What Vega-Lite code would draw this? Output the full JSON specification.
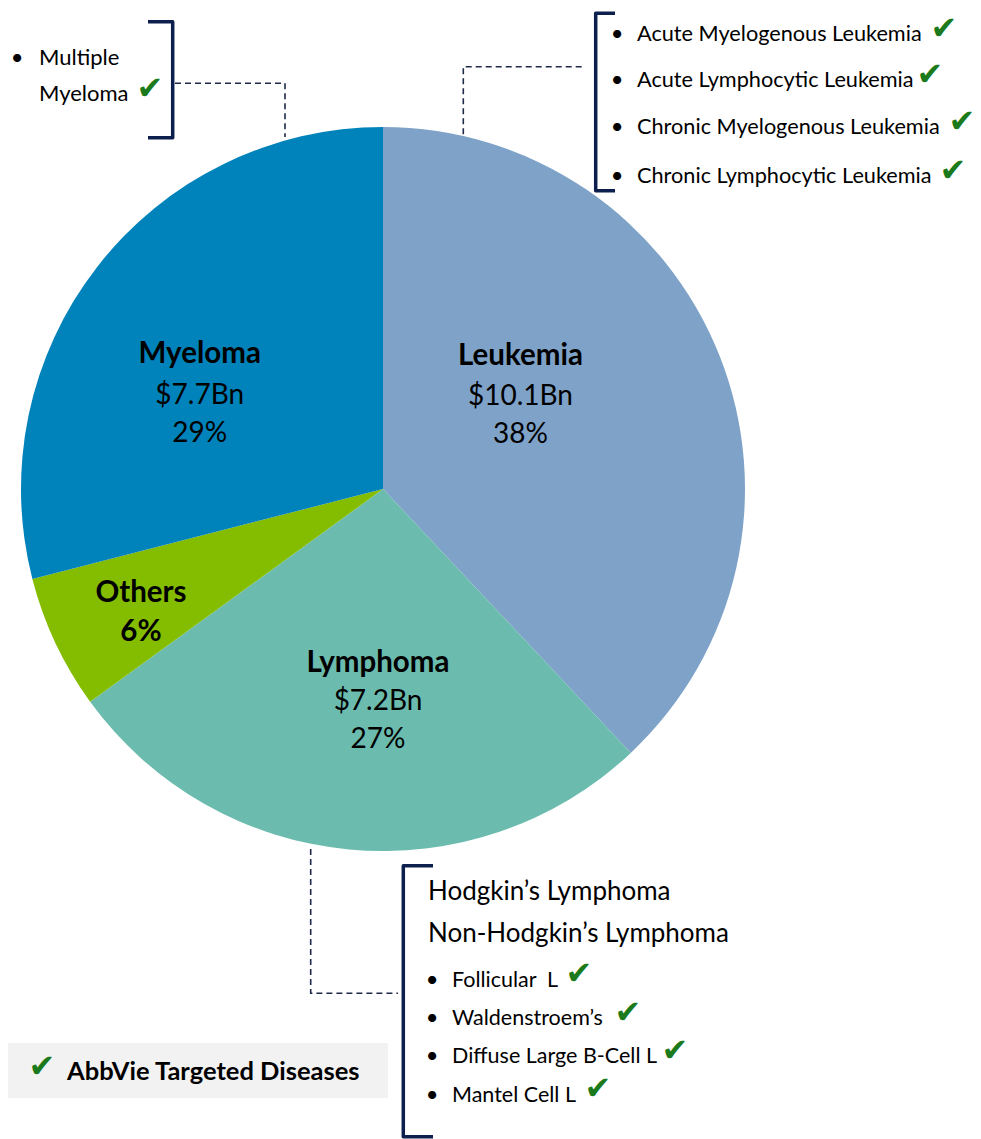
{
  "$schema": "https://vega.github.io/schema/vega-lite/v6.json",
  "width": 766,
  "height": 978,
  "autosize": {"type": "none"},
  "padding": {"left": 0, "top": 0, "right": 215, "bottom": 161},
  "background": "white",
  "config": {"view": {"stroke": null}, "font": "Lato", "text": {"font": "Lato"}},
  "datasets": {
    "pie": [
      {"segment": "Leukemia", "value": 38, "order": 1},
      {"segment": "Lymphoma", "value": 27, "order": 2},
      {"segment": "Others", "value": 6, "order": 3},
      {"segment": "Myeloma", "value": 29, "order": 4}
    ],
    "legendBox": [{"x": 8, "x2": 388, "y": 1043, "y2": 1098}],
    "labelsBold": [
      {"x": 199.7, "y": 363, "text": "Myeloma"},
      {"x": 520.5, "y": 365, "text": "Leukemia"},
      {"x": 141, "y": 602, "text": "Others"},
      {"x": 141, "y": 641, "text": "6%"},
      {"x": 378, "y": 672, "text": "Lymphoma"}
    ],
    "labelsReg": [
      {"x": 199.7, "y": 404, "text": "$7.7Bn"},
      {"x": 199.7, "y": 442, "text": "29%"},
      {"x": 520.5, "y": 405, "text": "$10.1Bn"},
      {"x": 520.5, "y": 443, "text": "38%"},
      {"x": 378, "y": 710, "text": "$7.2Bn"},
      {"x": 378, "y": 748, "text": "27%"}
    ],
    "items": [
      {"x": 39, "y": 65, "text": "Multiple"},
      {"x": 39, "y": 101, "text": "Myeloma"}
    ],
    "leukItems": [
      {"x": 637, "y": 40.7, "text": "Acute Myelogenous Leukemia"},
      {"x": 637, "y": 87.3, "text": "Acute Lymphocytic Leukemia"},
      {"x": 637, "y": 134, "text": "Chronic Myelogenous Leukemia"},
      {"x": 637, "y": 183.3, "text": "Chronic Lymphocytic Leukemia"}
    ],
    "lymphItems": [
      {"x": 452, "y": 986.7, "text": "Follicular\u00a0 L"},
      {"x": 452, "y": 1025, "text": "Waldenstroem’s"},
      {"x": 452, "y": 1063.3, "text": "Diffuse Large B-Cell L"},
      {"x": 452, "y": 1101.7, "text": "Mantel Cell L"}
    ],
    "headings": [
      {"x": 428, "y": 900, "text": "Hodgkin’s Lymphoma"},
      {"x": 428, "y": 941.7, "text": "Non-Hodgkin’s Lymphoma"}
    ],
    "bullets": [
      {"x": 17, "y": 65},
      {"x": 617, "y": 40.7},
      {"x": 617, "y": 87.3},
      {"x": 617, "y": 134},
      {"x": 617, "y": 183.3},
      {"x": 432, "y": 986.7},
      {"x": 432, "y": 1025},
      {"x": 432, "y": 1063.3},
      {"x": 432, "y": 1101.7}
    ],
    "checks": [
      {"x": 150, "y": 89},
      {"x": 944, "y": 29},
      {"x": 930, "y": 75},
      {"x": 962, "y": 122},
      {"x": 953, "y": 171},
      {"x": 579, "y": 974},
      {"x": 628, "y": 1013},
      {"x": 675, "y": 1051},
      {"x": 598, "y": 1089},
      {"x": 42, "y": 1067}
    ],
    "legendText": [{"x": 67, "y": 1080, "text": "AbbVie Targeted Diseases"}],
    "brackets": [
      {"id": "b1", "o": 1, "x": 148, "y": 21.7},
      {"id": "b1", "o": 2, "x": 172.7, "y": 21.7},
      {"id": "b1", "o": 3, "x": 172.7, "y": 137.7},
      {"id": "b1", "o": 4, "x": 148, "y": 137.7},
      {"id": "b2", "o": 1, "x": 615, "y": 13.3},
      {"id": "b2", "o": 2, "x": 595.7, "y": 13.3},
      {"id": "b2", "o": 3, "x": 595.7, "y": 190.7},
      {"id": "b2", "o": 4, "x": 615, "y": 190.7},
      {"id": "b3", "o": 1, "x": 433, "y": 865.7},
      {"id": "b3", "o": 2, "x": 403.3, "y": 865.7},
      {"id": "b3", "o": 3, "x": 403.3, "y": 1136.7},
      {"id": "b3", "o": 4, "x": 433, "y": 1136.7}
    ],
    "connectors": [
      {"id": "d1", "o": 1, "x": 175, "y": 83.3},
      {"id": "d1", "o": 2, "x": 285, "y": 83.3},
      {"id": "d1", "o": 3, "x": 285, "y": 137},
      {"id": "d2", "o": 1, "x": 581.7, "y": 66.7},
      {"id": "d2", "o": 2, "x": 463.3, "y": 66.7},
      {"id": "d2", "o": 3, "x": 463.3, "y": 136},
      {"id": "d3", "o": 1, "x": 310.7, "y": 849},
      {"id": "d3", "o": 2, "x": 310.7, "y": 993.3},
      {"id": "d3", "o": 3, "x": 398, "y": 993.3}
    ]
  },
  "encoding": {
    "x": {"field": "x", "type": "quantitative", "scale": {"domain": [0, 766], "nice": false, "zero": false}, "axis": null},
    "y": {"field": "y", "type": "quantitative", "scale": {"domain": [0, 978], "reverse": true, "nice": false, "zero": false}, "axis": null}
  },
  "layer": [
    {
      "data": {"name": "legendBox"},
      "mark": {"type": "rect", "fill": "#F2F2F2"},
      "encoding": {"x2": {"field": "x2"}, "y2": {"field": "y2"}}
    },
    {
      "data": {"name": "pie"},
      "mark": {"type": "arc", "radius": 362},
      "encoding": {
        "x": null,
        "y": null,
        "theta": {"field": "value", "type": "quantitative", "stack": true},
        "order": {"field": "order", "type": "quantitative"},
        "color": {
          "field": "segment",
          "type": "nominal",
          "scale": {"domain": ["Leukemia", "Lymphoma", "Others", "Myeloma"], "range": ["#7FA3C8", "#6BBCAE", "#84BD00", "#0082BA"]},
          "legend": null
        }
      }
    },
    {
      "data": {"name": "connectors"},
      "mark": {"type": "line", "stroke": "#1F2A4A", "strokeWidth": 1.6, "strokeDash": [6, 4]},
      "encoding": {"detail": {"field": "id"}, "order": {"field": "o", "type": "quantitative"}}
    },
    {
      "data": {"name": "brackets"},
      "mark": {"type": "line", "stroke": "#0D1F4D", "strokeWidth": 3.5, "strokeJoin": "round", "strokeCap": "butt"},
      "encoding": {"detail": {"field": "id"}, "order": {"field": "o", "type": "quantitative"}}
    },
    {
      "data": {"name": "labelsBold"},
      "mark": {"type": "text", "fontWeight": "bold", "fontSize": 29.5, "align": "center", "baseline": "alphabetic", "color": "#000000"},
      "encoding": {"text": {"field": "text"}}
    },
    {
      "data": {"name": "labelsReg"},
      "mark": {"type": "text", "fontSize": 28, "align": "center", "baseline": "alphabetic", "color": "#000000"},
      "encoding": {"text": {"field": "text"}}
    },
    {
      "data": {"name": "items"},
      "mark": {"type": "text", "fontSize": 22, "align": "left", "baseline": "alphabetic", "color": "#000000"},
      "encoding": {"text": {"field": "text"}}
    },
    {
      "data": {"name": "leukItems"},
      "mark": {"type": "text", "fontSize": 21.7, "align": "left", "baseline": "alphabetic", "color": "#000000"},
      "encoding": {"text": {"field": "text"}}
    },
    {
      "data": {"name": "lymphItems"},
      "mark": {"type": "text", "fontSize": 21.5, "align": "left", "baseline": "alphabetic", "color": "#000000"},
      "encoding": {"text": {"field": "text"}}
    },
    {
      "data": {"name": "headings"},
      "mark": {"type": "text", "fontSize": 26, "align": "left", "baseline": "alphabetic", "color": "#000000"},
      "encoding": {"text": {"field": "text"}}
    },
    {
      "data": {"name": "bullets"},
      "mark": {"type": "text", "fontSize": 22, "align": "center", "baseline": "alphabetic", "color": "#000000", "text": "•"},
      "encoding": {}
    },
    {
      "data": {"name": "legendText"},
      "mark": {"type": "text", "fontWeight": "bold", "fontSize": 25.5, "align": "left", "baseline": "alphabetic", "color": "#000000"},
      "encoding": {"text": {"field": "text"}}
    },
    {
      "data": {"name": "checks"},
      "mark": {"type": "text", "font": "DejaVu Sans", "fontSize": 32, "align": "center", "baseline": "middle", "color": "#1B7A1B", "text": "✔"},
      "encoding": {}
    }
  ]
}
